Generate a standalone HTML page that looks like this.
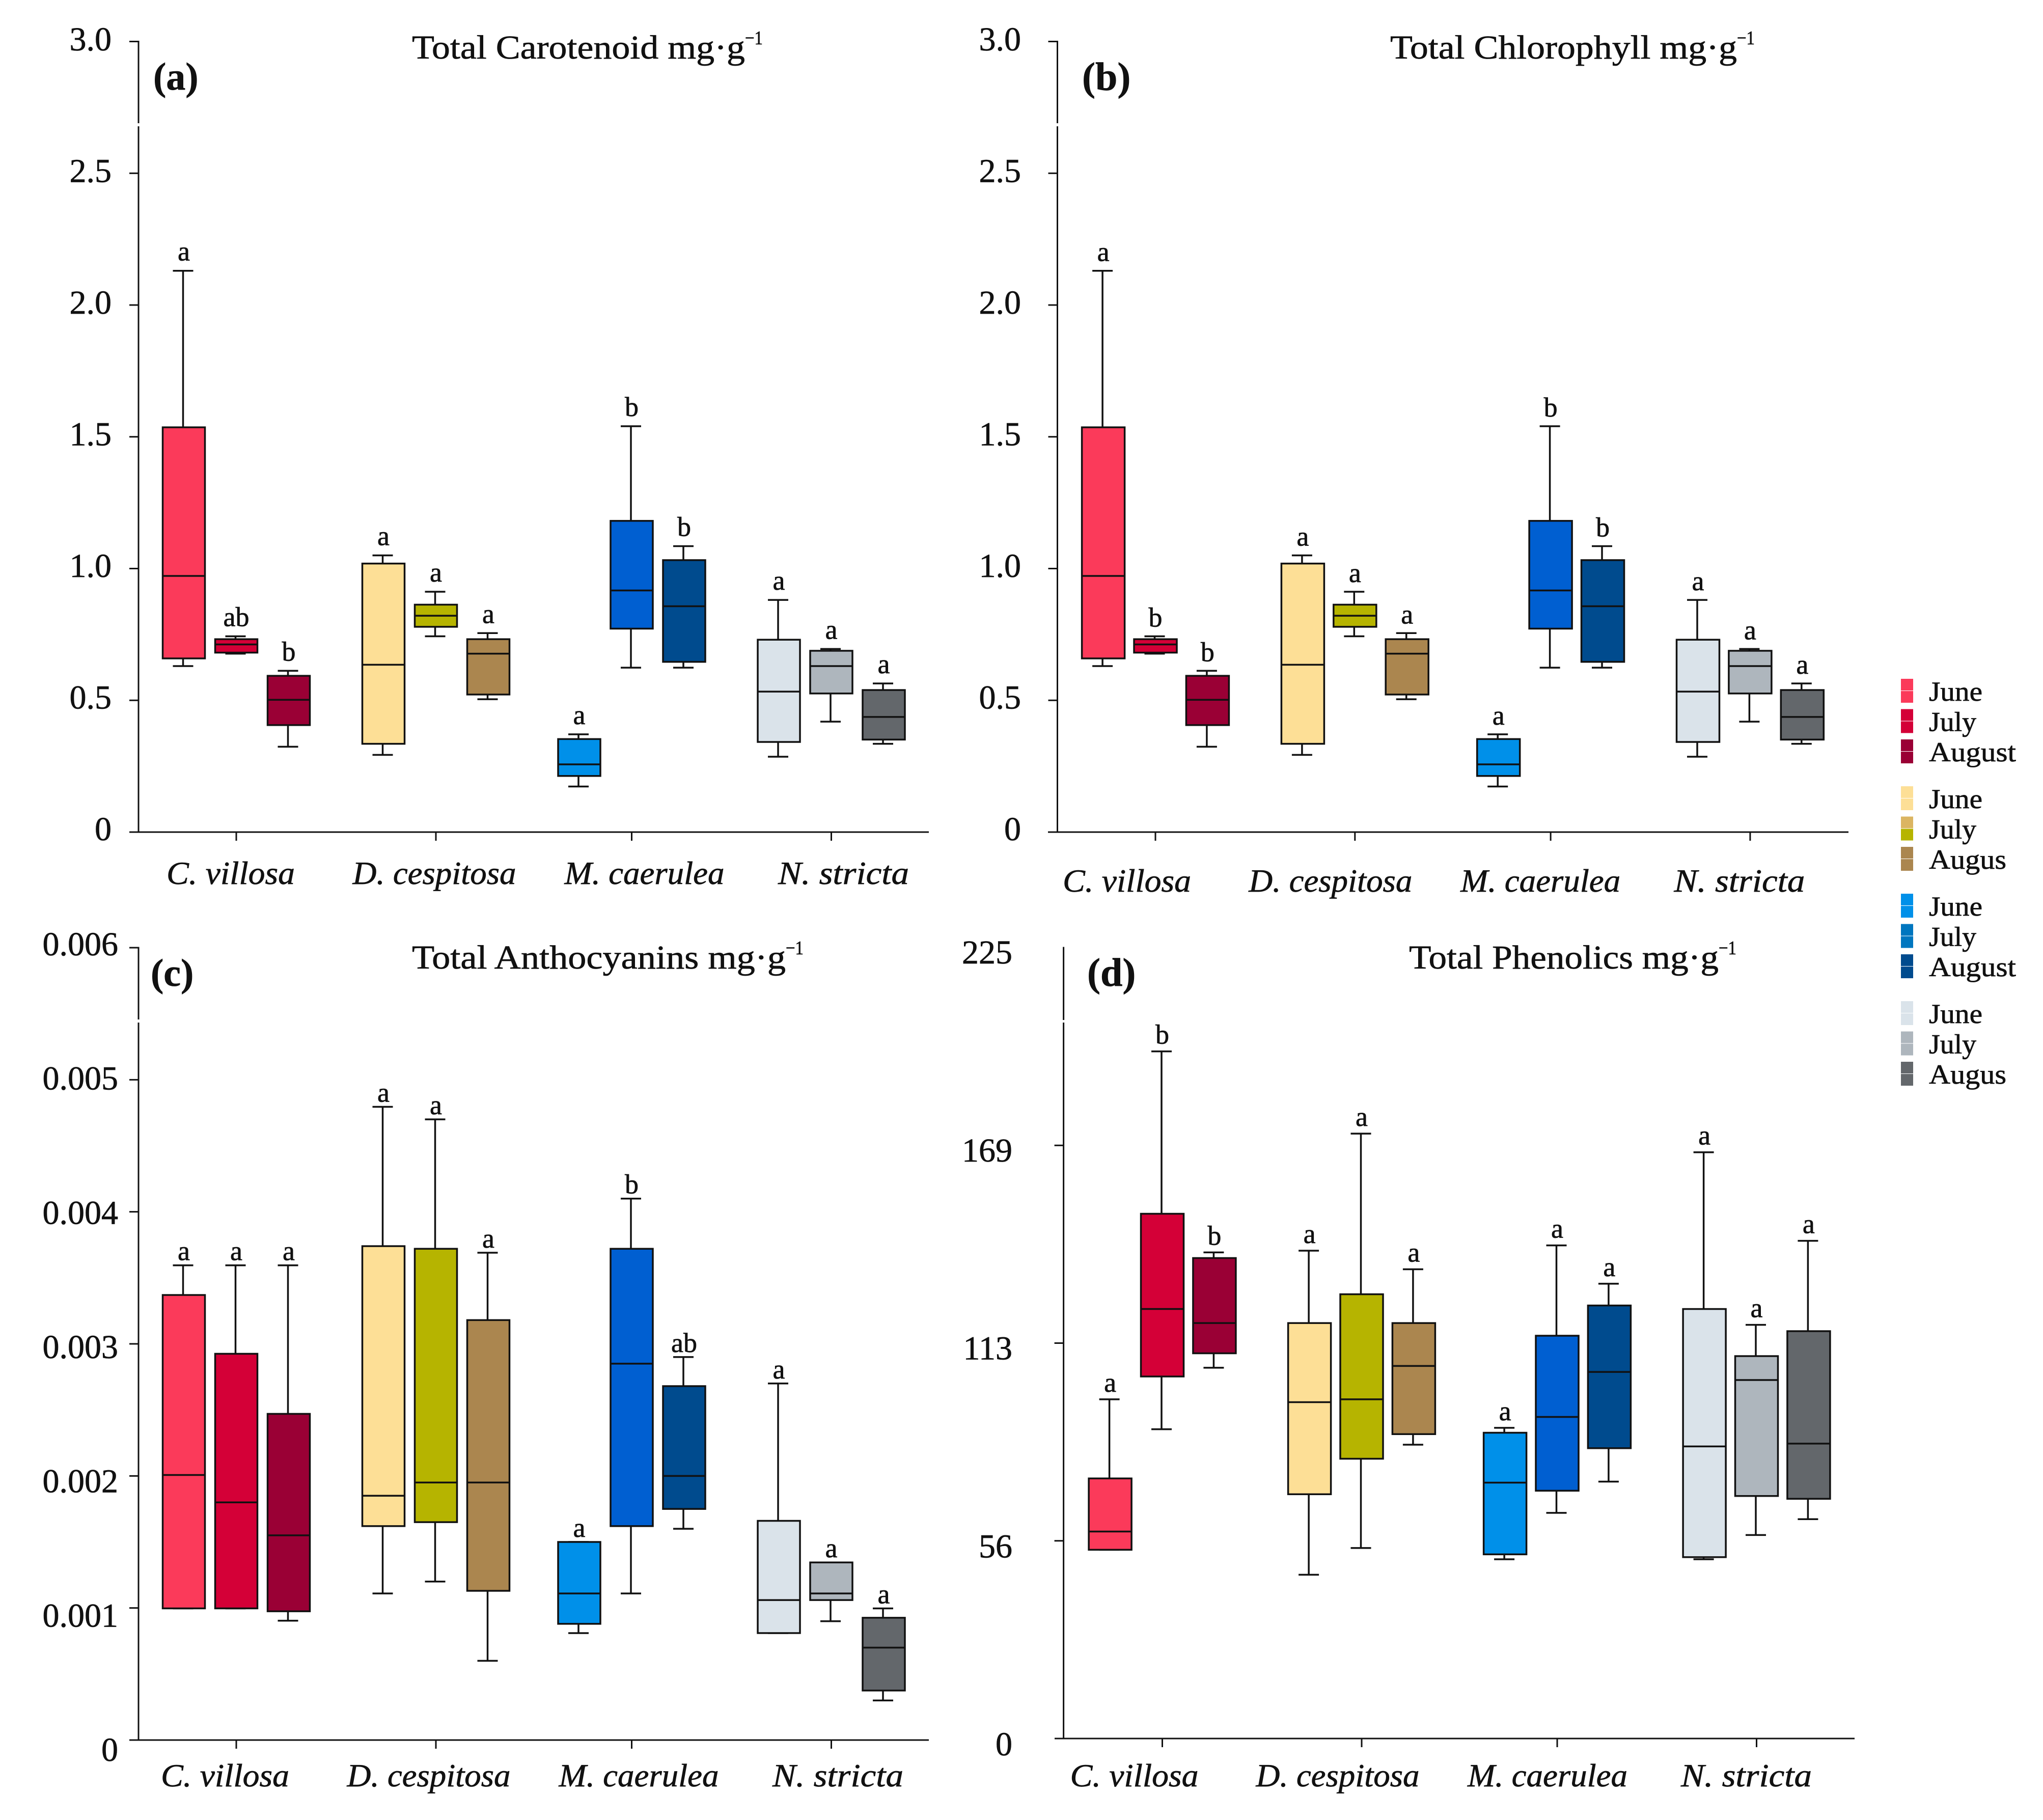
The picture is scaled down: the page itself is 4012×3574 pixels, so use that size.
<!DOCTYPE html>
<html lang="en">
<head>
<meta charset="utf-8">
<title>Boxplots of pigment and phenolic contents</title>
<style>
html,body{margin:0;padding:0;background:#fff;}
svg{display:block;}
text{font-family:"Liberation Serif",serif;fill:#111;stroke:#111;stroke-width:0.7px;}
</style>
</head>
<body>
<svg id="figure" xmlns="http://www.w3.org/2000/svg" width="4012" height="3574" viewBox="0 0 4012 3574"></svg>
<script>
const categories = ['C. villosa', 'D. cespitosa', 'M. caerulea', 'N. stricta'];
const months = ['June', 'July', 'August'];

const aWhiskerHigh = [2.13, 0.743, 0.612, 1.05, 0.912, 0.755, 0.371, 1.54, 1.085, 0.881, 0.695, 0.564];
const aQ3 = [1.536, 0.732, 0.593, 1.019, 0.863, 0.732, 0.353, 1.181, 1.032, 0.73, 0.688, 0.539];
const aMedian = [0.972, 0.712, 0.502, 0.635, 0.821, 0.677, 0.257, 0.917, 0.857, 0.533, 0.63, 0.437];
const aQ1 = [0.659, 0.681, 0.406, 0.335, 0.779, 0.522, 0.213, 0.772, 0.646, 0.342, 0.526, 0.351];
const aWhiskerLow = [0.63, 0.677, 0.324, 0.293, 0.743, 0.504, 0.173, 0.624, 0.624, 0.286, 0.419, 0.335];
const aLetters = ['a', 'ab', 'b', 'a', 'a', 'a', 'a', 'b', 'b', 'a', 'a', 'a'];
const aTickLabels = ['0', '0.5', '1.0', '1.5', '2.0', '2.5', '3.0'];
const aTickValues = [0, 0.5, 1, 1.5, 2, 2.5, 3];

const bWhiskerHigh = [2.13, 0.743, 0.612, 1.05, 0.912, 0.755, 0.371, 1.54, 1.085, 0.881, 0.695, 0.564];
const bQ3 = [1.536, 0.732, 0.593, 1.019, 0.863, 0.732, 0.353, 1.181, 1.032, 0.73, 0.688, 0.539];
const bMedian = [0.972, 0.712, 0.502, 0.635, 0.821, 0.677, 0.257, 0.917, 0.857, 0.533, 0.63, 0.437];
const bQ1 = [0.659, 0.681, 0.406, 0.335, 0.779, 0.522, 0.213, 0.772, 0.646, 0.342, 0.526, 0.351];
const bWhiskerLow = [0.63, 0.677, 0.324, 0.293, 0.743, 0.504, 0.173, 0.624, 0.624, 0.286, 0.419, 0.335];
const bLetters = ['a', 'b', 'b', 'a', 'a', 'a', 'a', 'b', 'b', 'a', 'a', 'a'];
const bTickLabels = ['0', '0.5', '1.0', '1.5', '2.0', '2.5', '3.0'];
const bTickValues = [0, 0.5, 1, 1.5, 2, 2.5, 3];

const cWhiskerHigh = [0.003595, 0.003595, 0.003595, 0.004795, 0.0047, 0.00369, 0.0015, 0.0041, 0.0029, 0.0027, 0.001345, 0.000997];
const cQ3 = [0.00337, 0.002925, 0.00247, 0.00374, 0.00372, 0.00318, 0.0015, 0.00372, 0.00268, 0.00166, 0.001345, 0.000926];
const cMedian = [0.002007, 0.0018, 0.00155, 0.00185, 0.00195, 0.00195, 0.00111, 0.00285, 0.002, 0.00106, 0.00111, 0.0007];
const cQ1 = [0.000997, 0.000997, 0.000975, 0.00162, 0.00165, 0.00113, 0.00088, 0.00162, 0.00175, 0.00081, 0.00106, 0.000375];
const cWhiskerLow = [0.000997, 0.000997, 0.000904, 0.00111, 0.0012, 0.0006, 0.00081, 0.00111, 0.0016, 0.00081, 0.0009, 0.0003];
const cLetters = ['a', 'a', 'a', 'a', 'a', 'a', 'a', 'b', 'ab', 'a', 'a', 'a'];
const cTickLabels = ['0', '0.001', '0.002', '0.003', '0.004', '0.005', '0.006'];
const cTickValues = [0, 0.001, 0.002, 0.003, 0.004, 0.005, 0.006];

const dWhiskerHigh = [96.5, 195.5, 138.3, 138.8, 172.1, 133.5, 88.4, 140.3, 129.4, 166.8, 117.7, 141.6];
const dQ3 = [74, 149.3, 136.7, 118.2, 126.4, 118.2, 87, 114.6, 123.2, 122.2, 108.8, 115.9];
const dMedian = [58.9, 122.2, 118.2, 95.7, 96.5, 106, 72.8, 91.5, 104.3, 83.1, 102, 83.9];
const dQ1 = [53.7, 103, 109.6, 69.5, 79.6, 86.6, 52.4, 70.5, 82.6, 51.6, 69, 68.2];
const dWhiskerLow = [53.7, 88, 105.5, 46.6, 54.2, 83.6, 51, 64.2, 73.1, 51, 57.9, 62.4];
const dLetters = ['a', 'b', 'b', 'a', 'a', 'a', 'a', 'a', 'a', 'a', 'a', 'a'];
const dTickLabels = ['0', '56', '113', '169', '225'];
const dTickValues = [0, 56.25, 112.5, 168.75, 225];

const boxColors = ['#fb3a5a', '#d40037', '#9a0035', '#fddf96', '#b6b400', '#ab864f', '#0090e9', '#005fd1', '#004b8e', '#dae3ea', '#aeb6bd', '#63676b'];

const legendLabels = ['June', 'July', 'August', 'June', 'July', 'Augus', 'June', 'July', 'August', 'June', 'July', 'Augus'];
const legendTop = ['#fb3a5a', '#d40037', '#9a0035', '#fddf96', '#dbb562', '#ab864f', '#0090e9', '#0076bf', '#004b8e', '#dae3ea', '#aeb6bd', '#63676b'];
const legendBottom = ['#fb3a5a', '#d40037', '#9a0035', '#fddf96', '#b6b400', '#ab864f', '#0090e9', '#0076bf', '#004b8e', '#dae3ea', '#aeb6bd', '#63676b'];

const svg = document.getElementById('figure');
const NS = 'http://www.w3.org/2000/svg';
const INK = '#111';
const LW = 3.5;

function el(tag, attrs, parent) {
  const node = document.createElementNS(NS, tag);
  for (const key in attrs) node.setAttribute(key, attrs[key]);
  parent.appendChild(node);
  return node;
}

function drawPanel(cfg) {
  const g = el('g', {}, svg);
  
  

  const yScale = v => cfg.y0 - (v / cfg.maxValue) * (cfg.y0 - cfg.yTop);
  const catShift = [0, 2.5, -2.5, 0];
  const xCat = i => cfg.catX0 + i * cfg.step + catShift[i];
  const xBox = (c, m) => xCat(c) + (m - 1) * cfg.boxOffset;

  const axisTop = el('line', {x1: cfg.axisX, x2: cfg.axisX, y1: cfg.yTop - 1.5, y2: cfg.gap0, stroke: INK, 'stroke-width': 3}, g);
  
  

  const axisLow = el('line', {x1: cfg.axisX, x2: cfg.axisX, y1: cfg.gap1, y2: cfg.y0, stroke: INK, 'stroke-width': 3}, g);
  
  

  const xAxis = el('line', {x1: cfg.xAxis0, x2: cfg.xAxis1, y1: cfg.y0, y2: cfg.y0, stroke: INK, 'stroke-width': 3}, g);
  
  

  cfg.tickValues.forEach((v, i) => {
    if (!(cfg.noTopTick && i === cfg.tickValues.length - 1) && i > 0) {
      const tick = el('line', {x1: cfg.axisX - 18, x2: cfg.axisX, y1: yScale(v), y2: yScale(v), stroke: INK, 'stroke-width': 3}, g);
      
      
    }
    const n = cfg.tickValues.length - 1;
    const baseline = cfg.labBottom + (cfg.labTop - cfg.labBottom) * i / n;
    const label = el('text', {x: cfg.labRight, y: baseline, 'text-anchor': 'end', 'font-size': 66}, g);
    label.textContent = cfg.tickLabels[i];
    
    
  });

  const nameShift = [0, 8, 36, 35];
  const nameWidth = [252, 321, 314, 257];
  categories.forEach((name, c) => {
    const tick = el('line', {x1: xCat(c), x2: xCat(c), y1: cfg.y0, y2: cfg.y0 + 17, stroke: INK, 'stroke-width': 3}, g);
    
    
    const label = el('text', {
      x: xCat(c) + cfg.nameOffset + nameShift[c],
      y: cfg.nameY,
      'text-anchor': 'middle',
      'font-size': 63,
      'font-style': 'italic',
      textLength: nameWidth[c],
      lengthAdjust: 'spacingAndGlyphs'
    }, g);
    label.textContent = name;
    
    
  });

  categories.forEach((name, c) => {
    months.forEach((month, m) => {
      const s = c * 3 + m;
      const cx = xBox(c, m);
      const hw = cfg.boxWidth / 2;
      const cap = 20;

      const whiskerUp = el('line', {x1: cx - 1.5, x2: cx - 1.5, y1: yScale(cfg.whiskerHigh[s]), y2: yScale(cfg.q3[s]), stroke: INK, 'stroke-width': LW}, g);
      
      

      const whiskerDown = el('line', {x1: cx - 1.5, x2: cx - 1.5, y1: yScale(cfg.q1[s]), y2: yScale(cfg.whiskerLow[s]), stroke: INK, 'stroke-width': LW}, g);
      
      

      const capUp = el('line', {x1: cx - 1.5 - cap, x2: cx - 1.5 + cap, y1: yScale(cfg.whiskerHigh[s]), y2: yScale(cfg.whiskerHigh[s]), stroke: INK, 'stroke-width': LW}, g);
      
      

      const capDown = el('line', {x1: cx - 1.5 - cap, x2: cx - 1.5 + cap, y1: yScale(cfg.whiskerLow[s]), y2: yScale(cfg.whiskerLow[s]), stroke: INK, 'stroke-width': LW}, g);
      
      

      const box = el('rect', {
        x: cx - hw,
        y: yScale(cfg.q3[s]),
        width: cfg.boxWidth,
        height: yScale(cfg.q1[s]) - yScale(cfg.q3[s]),
        fill: boxColors[s],
        stroke: INK,
        'stroke-width': LW
      }, g);
      
      

      const median = el('line', {x1: cx - hw, x2: cx + hw, y1: yScale(cfg.median[s]), y2: yScale(cfg.median[s]), stroke: INK, 'stroke-width': LW}, g);
      
      

      const letter = el('text', {
        x: cx,
        y: yScale(cfg.whiskerHigh[s]) - cfg.letterGap,
        'text-anchor': 'middle',
        'font-size': 54
      }, g);
      letter.textContent = cfg.letters[s];
      
      
    });
  });

  const title = el('text', {x: cfg.titleX, y: cfg.titleY, 'font-size': 66, textLength: cfg.titleW, lengthAdjust: 'spacingAndGlyphs'}, g);
  title.textContent = cfg.title;
  
  

  const sup = el('text', {x: cfg.titleX + cfg.titleW, y: cfg.titleY - 28, 'font-size': 38, textLength: 35, lengthAdjust: 'spacingAndGlyphs'}, g);
  sup.textContent = '\u22121';
  
  

  const tag = el('text', {x: cfg.tagX, y: cfg.tagY, 'font-size': cfg.tagSize, 'font-weight': 'bold'}, g);
  tag.textContent = '(' + cfg.id + ')';
  
  
}

drawPanel({
  id: 'a', title: 'Total Carotenoid mg\u00b7g', maxValue: 3,
  tickValues: aTickValues, tickLabels: aTickLabels,
  whiskerHigh: aWhiskerHigh, q3: aQ3, median: aMedian, q1: aQ1, whiskerLow: aWhiskerLow, letters: aLetters,
  axisX: 272, xAxis0: 254, xAxis1: 1824, y0: 1634, yTop: 81.5, gap0: 242, gap1: 248,
  catX0: 464, step: 389.5, boxOffset: 103, boxWidth: 83,
  labTop: 99, labBottom: 1650, labRight: 219, nameOffset: -11, nameY: 1736, letterGap: 20,
  titleX: 809, titleY: 115, titleW: 654, tagX: 301, tagY: 176, tagSize: 76
});

drawPanel({
  id: 'b', title: 'Total Chlorophyll mg\u00b7g', maxValue: 3,
  tickValues: bTickValues, tickLabels: bTickLabels,
  whiskerHigh: bWhiskerHigh, q3: bQ3, median: bMedian, q1: bQ1, whiskerLow: bWhiskerLow, letters: bLetters,
  axisX: 2076.5, xAxis0: 2058, xAxis1: 3630, y0: 1634, yTop: 81.5, gap0: 242, gap1: 248,
  catX0: 2269, step: 389.3, boxOffset: 102.4, boxWidth: 84,
  labTop: 99, labBottom: 1650, labRight: 2005, nameOffset: -56, nameY: 1751, letterGap: 19,
  titleX: 2730, titleY: 115, titleW: 681, tagX: 2125, tagY: 177, tagSize: 78
});

drawPanel({
  id: 'c', title: 'Total Anthocyanins mg\u00b7g', maxValue: 0.006,
  tickValues: cTickValues, tickLabels: cTickLabels,
  whiskerHigh: cWhiskerHigh, q3: cQ3, median: cMedian, q1: cQ1, whiskerLow: cWhiskerLow, letters: cLetters,
  axisX: 272, xAxis0: 254, xAxis1: 1824, y0: 3417, yTop: 1861, gap0: 2002, gap1: 2008,
  catX0: 464, step: 389.5, boxOffset: 103, boxWidth: 83,
  labTop: 1876, labBottom: 3458, labRight: 232, nameOffset: -22, nameY: 3508, letterGap: 10,
  titleX: 809, titleY: 1902, titleW: 734, tagX: 296, tagY: 1936, tagSize: 76
});

drawPanel({
  id: 'd', title: 'Total Phenolics mg\u00b7g', maxValue: 225, noTopTick: true,
  tickValues: dTickValues, tickLabels: dTickLabels,
  whiskerHigh: dWhiskerHigh, q3: dQ3, median: dMedian, q1: dQ1, whiskerLow: dWhiskerLow, letters: dLetters,
  axisX: 2088.6, xAxis0: 2071, xAxis1: 3642, y0: 3414, yTop: 1861, gap0: 2003, gap1: 2008,
  catX0: 2282.5, step: 389, boxOffset: 102.4, boxWidth: 84,
  labTop: 1892, labBottom: 3447, labRight: 1988, nameOffset: -55, nameY: 3508, letterGap: 15,
  titleX: 2767, titleY: 1902, titleW: 608, tagX: 2135, tagY: 1936, tagSize: 78
});

const legend = el('g', {}, svg);



const legendWidths = {June: 105, July: 93, August: 171, Augus: 152};
legendLabels.forEach((label, i) => {
  const group = Math.floor(i / 3);
  const row = i % 3;
  const top = 1333 + group * 211 + row * 59.5;

  const upper = el('rect', {x: 3733, y: top, width: 24, height: 23, fill: legendTop[i]}, legend);
  
  

  const lower = el('rect', {x: 3733, y: top + 24, width: 24, height: 23, fill: legendBottom[i]}, legend);
  
  

  const text = el('text', {x: 3788, y: top + 43, 'font-size': 54, textLength: legendWidths[label], lengthAdjust: 'spacingAndGlyphs'}, legend);
  text.textContent = label;
  
  
});
</script>
</body>
</html>
